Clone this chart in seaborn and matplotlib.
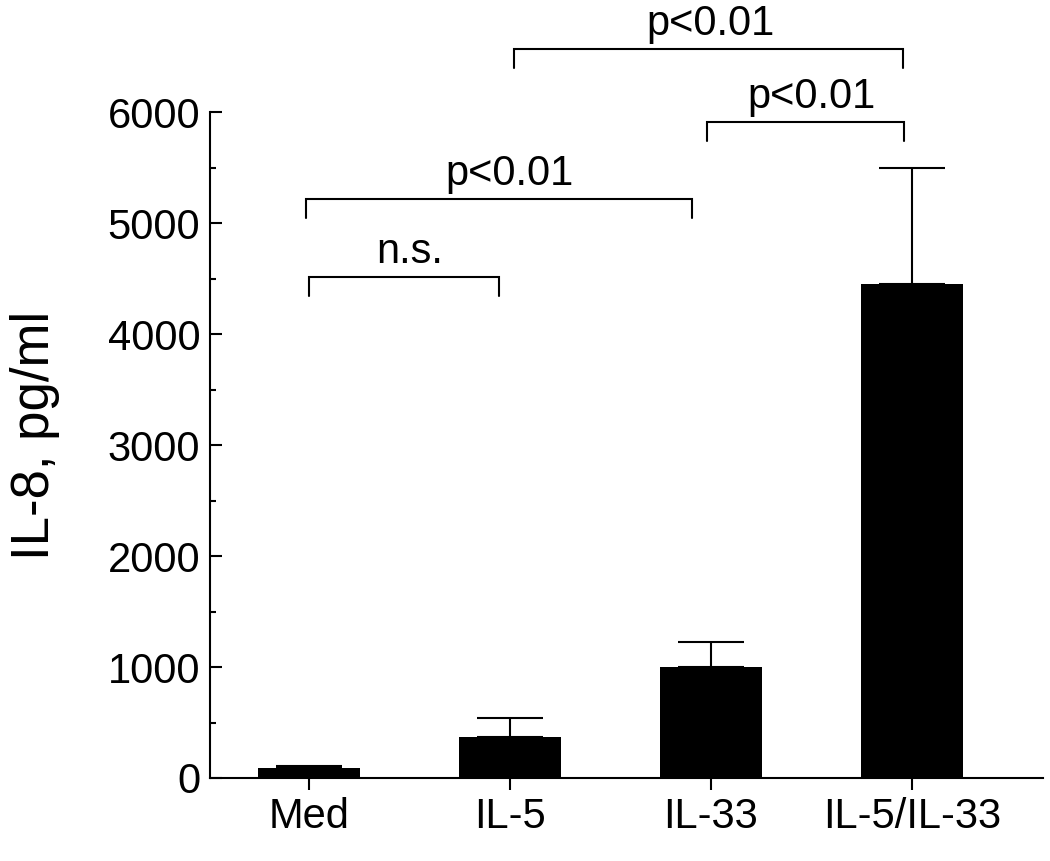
#import library
import pandas as pd
import seaborn as sns
import matplotlib.pyplot as plt
from matplotlib.ticker import MultipleLocator

#data
groups = ['Med', 'IL-5', 'IL-33', 'IL-5/IL-33']
il8_mean = [88, 370, 1000, 4455]
il8_sem = [20, 170, 225, 1045]

#significance brackets (group pairs, bracket height, label)
pair_left = ['Med', 'Med', 'IL-5', 'IL-33']
pair_right = ['IL-5', 'IL-33', 'IL-5/IL-33', 'IL-5/IL-33']
bracket_height = [4514, 5216, 6568, 5910]
bracket_text = ['n.s.', 'p<0.01', 'p<0.01', 'p<0.01']

df = pd.DataFrame({'group': groups, 'il8': il8_mean, 'sem': il8_sem})

#style
sns.set_style('ticks')
plt.rcParams['font.family'] = ['Liberation Sans', 'DejaVu Sans']
plt.rcParams.update({
    'axes.linewidth': 1.5,
    'text.color': 'black',
    'axes.labelcolor': 'black',
    'axes.edgecolor': 'black',
    'xtick.color': 'black',
    'ytick.color': 'black',
})

fig = plt.figure(figsize=(10.5, 8.61), dpi=100)
ax = fig.add_axes([0.2, 0.0964, 0.7933, 0.7735])

#bars
sns.barplot(data=df, x='group', y='il8', color='black', saturation=1,
            width=0.505, errorbar=None, linewidth=0, ax=ax)

#upper error bars only
xpos = range(len(groups))
ax.errorbar(xpos, df['il8'], yerr=[[0] * len(groups), df['sem']], fmt='none',
            ecolor='black', elinewidth=1.5, capsize=24, capthick=1.5, zorder=1)

#brackets
end_shift_left = [0.0, -0.015, 0.02, -0.02]
end_shift_right = [-0.055, -0.095, -0.045, -0.04]
leg = 175
for i in range(len(bracket_text)):
    x1 = groups.index(pair_left[i]) + end_shift_left[i]
    x2 = groups.index(pair_right[i]) + end_shift_right[i]
    h = bracket_height[i]
    ax.plot([x1, x1, x2, x2], [h - leg, h, h, h - leg], color='black',
            lw=1.5, clip_on=False, solid_joinstyle='miter')
    xm = (groups.index(pair_left[i]) + groups.index(pair_right[i])) / 2
    ax.text(xm, h + 125, bracket_text[i], ha='center', va='baseline',
            fontsize=30, color='black', clip_on=False)

#axes
ax.set_xlim(-0.4925, 3.652)
ax.set_ylim(0, 6000)
ax.yaxis.set_major_locator(MultipleLocator(1000))
ax.yaxis.set_minor_locator(MultipleLocator(500))
ax.tick_params(axis='y', which='major', direction='in', length=8.6, width=1.5,
               labelsize=30, pad=7)
ax.tick_params(axis='y', which='minor', direction='in', length=4.3, width=1.5)
ax.tick_params(axis='x', which='major', direction='out', length=8.6, width=1.5,
               labelsize=30, pad=5)
ax.set_xlabel('')
ax.set_ylabel('IL-8, pg/ml', fontsize=38)
ax.yaxis.set_label_coords(-0.18, 0.515)
sns.despine(ax=ax)

plt.savefig('out.png', dpi=100)
